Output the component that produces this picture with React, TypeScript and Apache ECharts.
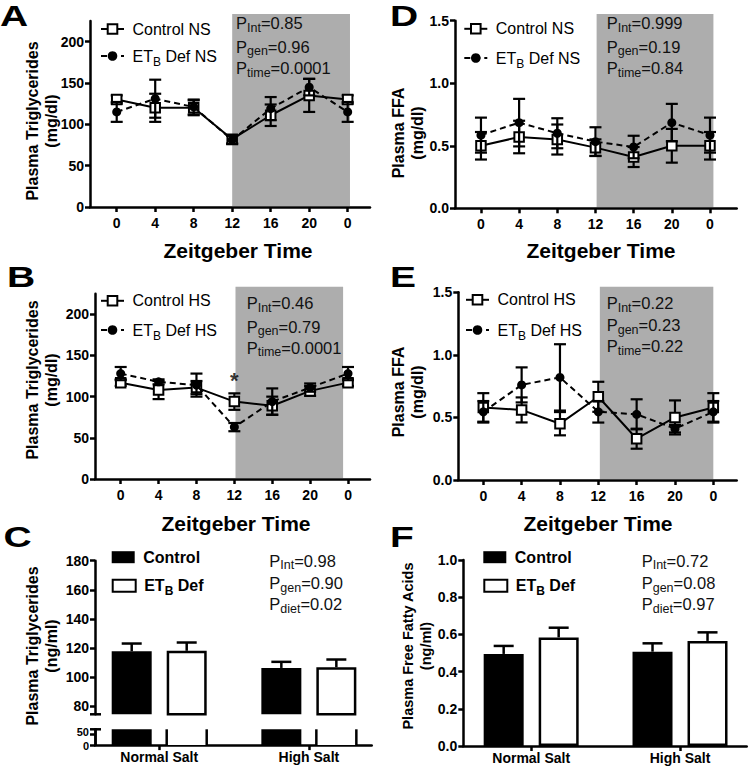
import React, { useEffect, useRef } from "react";
import * as echarts from "echarts";

// ---------------- data ----------------
const ztLabels = ["0", "4", "8", "12", "16", "20", "0"];
const ztPos = [0, 1, 2, 3, 4, 5, 6];

// Panel A: plasma triglycerides, normal salt
const aCtrl = [130, 120, 120, 82, 111, 135, 130];
const aCtrlErr = [5, 17, 9, 5, 13, 20, 5];
const aEtb = [115, 131, 121, 81, 119, 145, 115];
const aEtbErr = [12, 23, 9, 5, 14, 10, 12];
// Panel B: plasma triglycerides, high salt
const bCtrl = [117, 108, 111, 94, 89, 107, 117];
const bCtrlErr = [4, 11, 8, 10, 11, 6, 4];
const bEtb = [128, 118, 114, 63, 94, 111, 128];
const bEtbErr = [8, 3, 14, 5, 16, 5, 8];
const bStar = [[3, 120]];
// Panel D: plasma FFA, normal salt
const dCtrl = [0.5, 0.57, 0.55, 0.485, 0.41, 0.5, 0.5];
const dCtrlErr = [0.11, 0.13, 0.12, 0.066, 0.08, 0.135, 0.11];
const dEtb = [0.585, 0.685, 0.6, 0.533, 0.49, 0.685, 0.585];
const dEtbErr = [0.14, 0.19, 0.12, 0.115, 0.09, 0.15, 0.14];
// Panel E: plasma FFA, high salt
const eCtrl = [0.58, 0.56, 0.45, 0.665, 0.33, 0.5, 0.58];
const eCtrlErr = [0.114, 0.1, 0.093, 0.12, 0.08, 0.136, 0.114];
const eEtb = [0.545, 0.76, 0.82, 0.545, 0.525, 0.41, 0.545];
const eEtbErr = [0.086, 0.14, 0.265, 0.086, 0.12, 0.03, 0.086];

// Panels C / F: diet bars
const dietLabels = ["Normal Salt", "High Salt"];
const dietPos = [0, 1];
const cCtrl = [117.7, 106.2];
const cCtrlErr = [5.3, 4.2];
const cEtb = [118, 106.7];
const cEtbErr = [5.7, 5.3];
const fCtrl = [0.495, 0.507];
const fCtrlErr = [0.043, 0.045];
const fEtb = [0.584, 0.565];
const fEtbErr = [0.052, 0.046];

// tick values
const tgTicks = [0, 50, 100, 150, 200];
const ffaTicks = [0, 0.5, 1.0, 1.5];
const cUpperTicks = [80, 100, 120, 140, 160, 180];
const cLowerTicksA = [50];
const cLowerTicksB = [0];
const fTicks = [0, 0.2, 0.4, 0.6, 0.8, 1.0];

// P values
const pA = [["Int", "0.85"], ["gen", "0.96"], ["time", "0.0001"]];
const pB = [["Int", "0.46"], ["gen", "0.79"], ["time", "0.0001"]];
const pD = [["Int", "0.999"], ["gen", "0.19"], ["time", "0.84"]];
const pE = [["Int", "0.22"], ["gen", "0.23"], ["time", "0.22"]];
const pC = [["Int", "0.98"], ["gen", "0.90"], ["diet", "0.02"]];
const pF = [["Int", "0.72"], ["gen", "0.08"], ["diet", "0.97"]];

// dark phase (ZT12 -> ZT24), in category index units
const shadeA = [3.0, 6.06];
const shadeB = [3.03, 5.87];
const shadeD = [3.03, 6.09];
const shadeE = [3.04, 6.0];

// ---------------- styling ----------------
const FONT = "'Liberation Sans', Arial, Helvetica, sans-serif";
const SHADE = "#adadad";
const C_LOW_MIN = -0.5;
const C_LOW_MAX = 71;

const legendRich = (bold: boolean, size: number) => ({
  n: { fontFamily: FONT, fontSize: size, fontWeight: bold ? "bold" : "normal", color: "#000", lineHeight: 23 },
  s: {
    fontFamily: FONT, fontSize: Math.round(size * 0.75), fontWeight: bold ? "bold" : "normal", color: "#000",
    lineHeight: 12, padding: [11, 0, 0, 0], verticalAlign: "bottom",
  },
});
const pRich = {
  n: { fontFamily: FONT, fontSize: 16.5, fill: "#111", lineHeight: 22 },
  s: { fontFamily: FONT, fontSize: 12.5, fill: "#111", lineHeight: 13, padding: [9, 0, 0, 0], verticalAlign: "bottom" },
};
const legendFmt = (name: string) =>
  name.startsWith("ETB") ? `{n|ET}{s|B}{n|${name.slice(3)}}` : `{n|${name}}`;

function buildOption() {
  const grid: any[] = [];
  const xAxis: any[] = [];
  const yAxis: any[] = [];
  const series: any[] = [];
  const legend: any[] = [];
  const graphic: any[] = [];

  const axisLine = { show: true, onZero: false, lineStyle: { color: "#000", width: 2.5 } };
  const tick = (vals: number[]) => ({ show: true, length: 5, customValues: vals, lineStyle: { color: "#000", width: 2.5 } });
  const lab = (vals: number[], fmt: (v: number) => string, margin: number) => ({
    show: true, customValues: vals, formatter: fmt, color: "#000", fontFamily: FONT,
    fontWeight: "bold", fontSize: 14, margin, showMinLabel: true, showMaxLabel: true,
  });
  const smallLab = (vals: number[], pad: number[]) => ({
    ...lab(vals, (v) => `{t|${Math.round(v)}}`, 6),
    rich: { t: { fontFamily: FONT, fontWeight: "bold", fontSize: 11, lineHeight: 10, padding: pad, color: "#000" } },
  });

  const errSeries = (gi: number, xs: number[], vals: number[], errs: number[], z: number) => ({
    type: "custom", xAxisIndex: gi, yAxisIndex: gi, z, silent: true,
    data: vals.map((v, i) => [xs[i], v, errs[i]]),
    renderItem: (_p: any, api: any) => {
      const x = api.value(0), v = api.value(1), e = api.value(2);
      const t = api.coord([x, v + e]);
      const b = api.coord([x, v - e]);
      const st = { stroke: "#000", lineWidth: 2.2 };
      return {
        type: "group",
        children: [
          { type: "line", shape: { x1: t[0], y1: t[1], x2: b[0], y2: b[1] }, style: st },
          { type: "line", shape: { x1: t[0] - 6, y1: t[1], x2: t[0] + 6, y2: t[1] }, style: st },
          { type: "line", shape: { x1: b[0] - 6, y1: b[1], x2: b[0] + 6, y2: b[1] }, style: st },
        ],
      };
    },
  });

  const linePanels = [
    { left: 90, top: 21, width: 280, height: 186, xMin: -0.694, xMax: 6.58, yMax: 225, yTicks: tgTicks, dec: 0,
      ctrl: aCtrl, ctrlErr: aCtrlErr, etb: aEtb, etbErr: aEtbErr, cn: "Control NS", en: "ETB Def NS",
      shade: shadeA, shadeTop: 233.5, legX: 100, legY: [32.5, 56], p: pA, pX: 236, pY: [23.3, 46.7, 68.3],
      yTitle: "Plasma Triglycerides\n(mg/dl)", yTX: 42, yTY: 121, yTS: 16, xTX: 238, xTY: 250, letter: "A", lX: 0, lY: 1 },
    { left: 455, top: 20.7, width: 281.7, height: 187.6, xMin: -0.68, xMax: 6.7, yMax: 1.5, yTicks: ffaTicks, dec: 1,
      ctrl: dCtrl, ctrlErr: dCtrlErr, etb: dEtb, etbErr: dEtbErr, cn: "Control NS", en: "ETB Def NS",
      shade: shadeD, shadeTop: 1.554, legX: 463.3, legY: [32.3, 58], p: pD, pX: 606.7, pY: [23.3, 46.7, 68.3],
      yTitle: "Plasma FFA\n(mg/dl)", yTX: 408, yTY: 133, yTS: 16, xTX: 601, xTY: 250, letter: "D", lX: 390, lY: 1 },
    { left: 95, top: 293.7, width: 275, height: 185.3, xMin: -0.678, xMax: 6.58, yMax: 225, yTicks: tgTicks, dec: 0,
      ctrl: bCtrl, ctrlErr: bCtrlErr, etb: bEtb, etbErr: bEtbErr, cn: "Control HS", en: "ETB Def HS",
      shade: shadeB, shadeTop: 233.5, legX: 100, legY: [304.3, 330], p: pB, pX: 246.7, pY: [303.3, 326.7, 347.7],
      yTitle: "Plasma Triglycerides\n(mg/dl)", yTX: 42, yTY: 380, yTS: 16, xTX: 236, xTY: 523, letter: "B", lX: 7, lY: 262 },
    { left: 458.3, top: 292.3, width: 278.4, height: 187.7, xMin: -0.652, xMax: 6.61, yMax: 1.5, yTicks: ffaTicks, dec: 1,
      ctrl: eCtrl, ctrlErr: eCtrlErr, etb: eEtb, etbErr: eEtbErr, cn: "Control HS", en: "ETB Def HS",
      shade: shadeE, shadeTop: 1.545, legX: 465, legY: [303.3, 330], p: pE, pX: 606.7, pY: [303.3, 325, 346],
      yTitle: "Plasma FFA\n(mg/dl)", yTX: 408, yTY: 392, yTS: 16, xTX: 598, xTY: 523, letter: "E", lX: 390, lY: 262 },
  ];

  const addLegend = (name: string, left: number, cy: number, bold: boolean, size: number, icon?: string) => {
    legend.push({
      data: [name], left, top: cy - 11.5, orient: "vertical", padding: 0, itemWidth: 23, itemHeight: 12,
      selectedMode: false, formatter: legendFmt, ...(icon ? { icon } : {}),
      textStyle: { padding: [0, 0, 0, 3.5], rich: legendRich(bold, size) },
    });
  };

  const addP = (rows: string[][], x: number, ys: number[]) => {
    rows.forEach((r, i) => {
      graphic.push({
        type: "text", x, y: ys[i], silent: true,
        style: { text: `{n|P}{s|${r[0]}}{n|=${r[1]}}`, rich: pRich, align: "left", verticalAlign: "middle" },
      });
    });
  };

  const addYTitle = (text: string, x: number, y: number, size: number) => {
    graphic.push({
      type: "text", x, y, rotation: Math.PI / 2, silent: true,
      style: {
        text, fontFamily: FONT, fontWeight: "bold", fontSize: size, lineHeight: size + 3,
        fill: "#000", align: "center", verticalAlign: "middle",
      },
    });
  };

  const addLetter = (t: string, x: number, y: number) => {
    graphic.push({
      type: "text", x, y, scaleX: 1.3, silent: true,
      style: { text: t, fontFamily: FONT, fontWeight: "bold", fontSize: 30, fill: "#000", align: "left", verticalAlign: "top" },
    });
  };

  linePanels.forEach((p, k) => {
    grid.push({ left: p.left, top: p.top, width: p.width, height: p.height });
    xAxis.push({
      type: "value", gridIndex: k, min: p.xMin, max: p.xMax, axisLine,
      axisTick: tick(ztPos), axisLabel: lab(ztPos, (v) => ztLabels[Math.round(v)], 9), splitLine: { show: false },
    });
    yAxis.push({
      type: "value", gridIndex: k, min: 0, max: p.yMax, axisLine,
      axisTick: tick(p.yTicks), axisLabel: lab(p.yTicks, (v) => v.toFixed(p.dec), 6), splitLine: { show: false },
    });
    series.push({
      type: "custom", xAxisIndex: k, yAxisIndex: k, z: -1, silent: true,
      data: [[p.shade[0], p.shade[1], p.shadeTop]],
      renderItem: (_q: any, api: any) => {
        const a = api.coord([api.value(0), 0]);
        const b = api.coord([api.value(1), api.value(2)]);
        return { type: "rect", shape: { x: a[0], y: b[1], width: b[0] - a[0], height: a[1] - b[1] - 1 }, style: { fill: SHADE } };
      },
    });
    series.push(errSeries(k, ztPos, p.ctrl, p.ctrlErr, 2));
    series.push({
      type: "line", name: p.cn, xAxisIndex: k, yAxisIndex: k, z: 3,
      data: p.ctrl.map((v, i) => [ztPos[i], v]),
      symbol: "rect", symbolSize: 9.5,
      lineStyle: { color: "#000", width: 2 },
      itemStyle: { color: "#fff", borderColor: "#000", borderWidth: 2 },
    });
    series.push(errSeries(k, ztPos, p.etb, p.etbErr, 4));
    series.push({
      type: "line", name: p.en, xAxisIndex: k, yAxisIndex: k, z: 5,
      data: p.etb.map((v, i) => [ztPos[i], v]),
      symbol: "circle", symbolSize: 9,
      lineStyle: { color: "#000", width: 2, type: [6, 4] },
      itemStyle: { color: "#000", borderColor: "#000", borderWidth: 0 },
    });
    addLegend(p.cn, p.legX, p.legY[0], false, 16);
    addLegend(p.en, p.legX, p.legY[1], false, 16);
    addP(p.p, p.pX, p.pY);
    addYTitle(p.yTitle, p.yTX, p.yTY, p.yTS);
    graphic.push({
      type: "text", x: p.xTX, y: p.xTY, silent: true,
      style: { text: "Zeitgeber Time", fontFamily: FONT, fontWeight: "bold", fontSize: 21, fill: "#000", align: "center", verticalAlign: "middle" },
    });
    addLetter(p.letter, p.lX, p.lY);
  });

  // asterisk in B
  series.push({
    type: "scatter", xAxisIndex: 2, yAxisIndex: 2, z: 6, silent: true, data: bStar,
    symbolSize: 1, itemStyle: { color: "rgba(0,0,0,0)" },
    label: { show: true, position: "inside", formatter: "*", fontFamily: FONT, fontWeight: "bold", fontSize: 22, color: "#000" },
  });

  // ---------- bar panels ----------
  const barErr = (gi: number, vals: number[], errs: number[], offset: number) => ({
    type: "custom", xAxisIndex: gi, yAxisIndex: gi, z: 4, silent: true,
    data: vals.map((v, i) => [dietPos[i], v, errs[i]]),
    renderItem: (_p: any, api: any) => {
      const x = api.value(0), v = api.value(1), e = api.value(2);
      const b = api.coord([x, v]);
      const t = api.coord([x, v + e]);
      const cx = b[0] + offset;
      const st = { stroke: "#000", lineWidth: 2.5 };
      return {
        type: "group",
        children: [
          { type: "line", shape: { x1: cx, y1: b[1], x2: cx, y2: t[1] }, style: st },
          { type: "line", shape: { x1: cx - 10, y1: t[1], x2: cx + 10, y2: t[1] }, style: st },
        ],
      };
    },
  });
  const ctrlBar = (gi: number, vals: number[]) => ({
    type: "bar", name: "Control", xAxisIndex: gi, yAxisIndex: gi, z: 3,
    data: vals.map((v, i) => [dietPos[i], v]), barWidth: 40, barGap: "37.5%",
    itemStyle: { color: "#000" },
  });
  const etbBar = (gi: number, vals: number[]) => ({
    type: "bar", name: "ETB Def", xAxisIndex: gi, yAxisIndex: gi, z: 3,
    data: vals.map((v, i) => [dietPos[i], v]), barWidth: 40, barGap: "37.5%",
    itemStyle: { color: "#fff", borderColor: "#000", borderWidth: 2.5 },
  });
  const OFF = 27.5;

  // C upper (grid 4)
  grid.push({ left: 95, top: 560.7, width: 276.7, height: 153.6 });
  xAxis.push({ type: "value", gridIndex: 4, min: -0.429, max: 1.42, show: false });
  yAxis.push({
    type: "value", gridIndex: 4, min: 74.3, max: 180, axisLine,
    axisTick: tick(cUpperTicks), axisLabel: lab(cUpperTicks, (v) => String(Math.round(v)), 6), splitLine: { show: false },
  });
  series.push(ctrlBar(4, cCtrl), etbBar(4, cEtb), barErr(4, cCtrl, cCtrlErr, -OFF), barErr(4, cEtb, cEtbErr, OFF));

  // C lower (grid 5)
  grid.push({ left: 95, top: 729.3, width: 276.7, height: 15.8 });
  xAxis.push({
    type: "value", gridIndex: 5, min: -0.429, max: 1.42, axisLine,
    axisTick: tick(dietPos), axisLabel: lab(dietPos, (v) => dietLabels[Math.round(v)], 5), splitLine: { show: false },
  });
  yAxis.push({
    type: "value", gridIndex: 5, position: "left", min: C_LOW_MIN, max: C_LOW_MAX, axisLine,
    axisTick: tick(cLowerTicksA), axisLabel: smallLab(cLowerTicksA, [0, 0, 3, 0]), splitLine: { show: false },
  });
  const lowBars = (vals: number[], offset: number, filled: boolean) => ({
    type: "custom", xAxisIndex: 5, yAxisIndex: 5, z: 3, silent: true,
    data: vals.map((v, i) => [dietPos[i], v]),
    renderItem: (_p: any, api: any) => {
      const x = api.value(0), v = api.value(1);
      const base = api.coord([x, C_LOW_MIN]);
      const top = api.coord([x, Math.min(v, C_LOW_MAX)]);
      const cx = base[0] + offset;
      if (filled) {
        return { type: "rect", shape: { x: cx - 20, y: top[1], width: 40, height: base[1] - top[1] }, style: { fill: "#000" } };
      }
      const st = { stroke: "#000", lineWidth: 2.5 };
      return {
        type: "group",
        children: [
          { type: "rect", shape: { x: cx - 20, y: top[1], width: 40, height: base[1] - top[1] }, style: { fill: "#fff" } },
          { type: "line", shape: { x1: cx - 20, y1: top[1], x2: cx - 20, y2: base[1] }, style: st },
          { type: "line", shape: { x1: cx + 20, y1: top[1], x2: cx + 20, y2: base[1] }, style: st },
        ],
      };
    },
  });
  series.push(lowBars(cCtrl, -OFF, true), lowBars(cEtb, OFF, false));
  // axis break marks
  graphic.push(
    { type: "line", silent: true, shape: { x1: 90, y1: 714.3, x2: 101, y2: 714.3 }, style: { stroke: "#000", lineWidth: 2.5 } },
    { type: "line", silent: true, shape: { x1: 90, y1: 729.3, x2: 101, y2: 729.3 }, style: { stroke: "#000", lineWidth: 2.5 } }
  );

  // F (grid 6)
  grid.push({ left: 463.3, top: 560, width: 283.4, height: 186 });
  xAxis.push({
    type: "value", gridIndex: 6, min: -0.456, max: 1.448, axisLine,
    axisTick: tick(dietPos), axisLabel: lab(dietPos, (v) => dietLabels[Math.round(v)], 5), splitLine: { show: false },
  });
  yAxis.push({
    type: "value", gridIndex: 6, min: 0, max: 1, axisLine,
    axisTick: tick(fTicks), axisLabel: lab(fTicks, (v) => v.toFixed(1), 6), splitLine: { show: false },
  });
  series.push(ctrlBar(6, fCtrl), etbBar(6, fEtb), barErr(6, fCtrl, fCtrlErr, -OFF), barErr(6, fEtb, fEtbErr, OFF));

  // second left y axis on the lower C segment, carrying the "0" tick
  yAxis.push({
    type: "value", gridIndex: 5, position: "left", offset: 0, min: C_LOW_MIN, max: C_LOW_MAX, axisLine,
    axisTick: tick(cLowerTicksB), axisLabel: smallLab(cLowerTicksB, [3, 0, 0, 0]), splitLine: { show: false },
  });

  addLegend("Control", 111.7, 560.7, true, 16, "rect");
  addLegend("ETB Def", 111.7, 585.7, true, 16, "rect");
  addLegend("Control", 483.3, 560.7, true, 16, "rect");
  addLegend("ETB Def", 483.3, 585.7, true, 16, "rect");
  addP(pC, 269.3, [560.7, 583.3, 604.3]);
  addP(pF, 641.7, [560.7, 583.3, 604.3]);
  addYTitle("Plasma Triglycerides\n(ng/ml)", 42, 646, 16);
  addYTitle("Plasma Free Fatty Acids\n(ng/ml)", 417, 646, 14.5);
  addLetter("C", 3.5, 522);
  addLetter("F", 390, 522);

  return {
    animation: false,
    backgroundColor: "#fff",
    textStyle: { fontFamily: FONT },
    grid, xAxis, yAxis, series, legend, graphic,
  };
}

export default function App() {
  const ref = useRef<HTMLDivElement>(null);
  useEffect(() => {
    const chart = echarts.init(ref.current!, null, { renderer: "svg", width: 750, height: 774 });
    chart.setOption(buildOption() as any);
    return () => chart.dispose();
  }, []);
  return <div ref={ref} style={{ position: "absolute", left: 0, top: 0, width: 750, height: 774 }} />;
}
